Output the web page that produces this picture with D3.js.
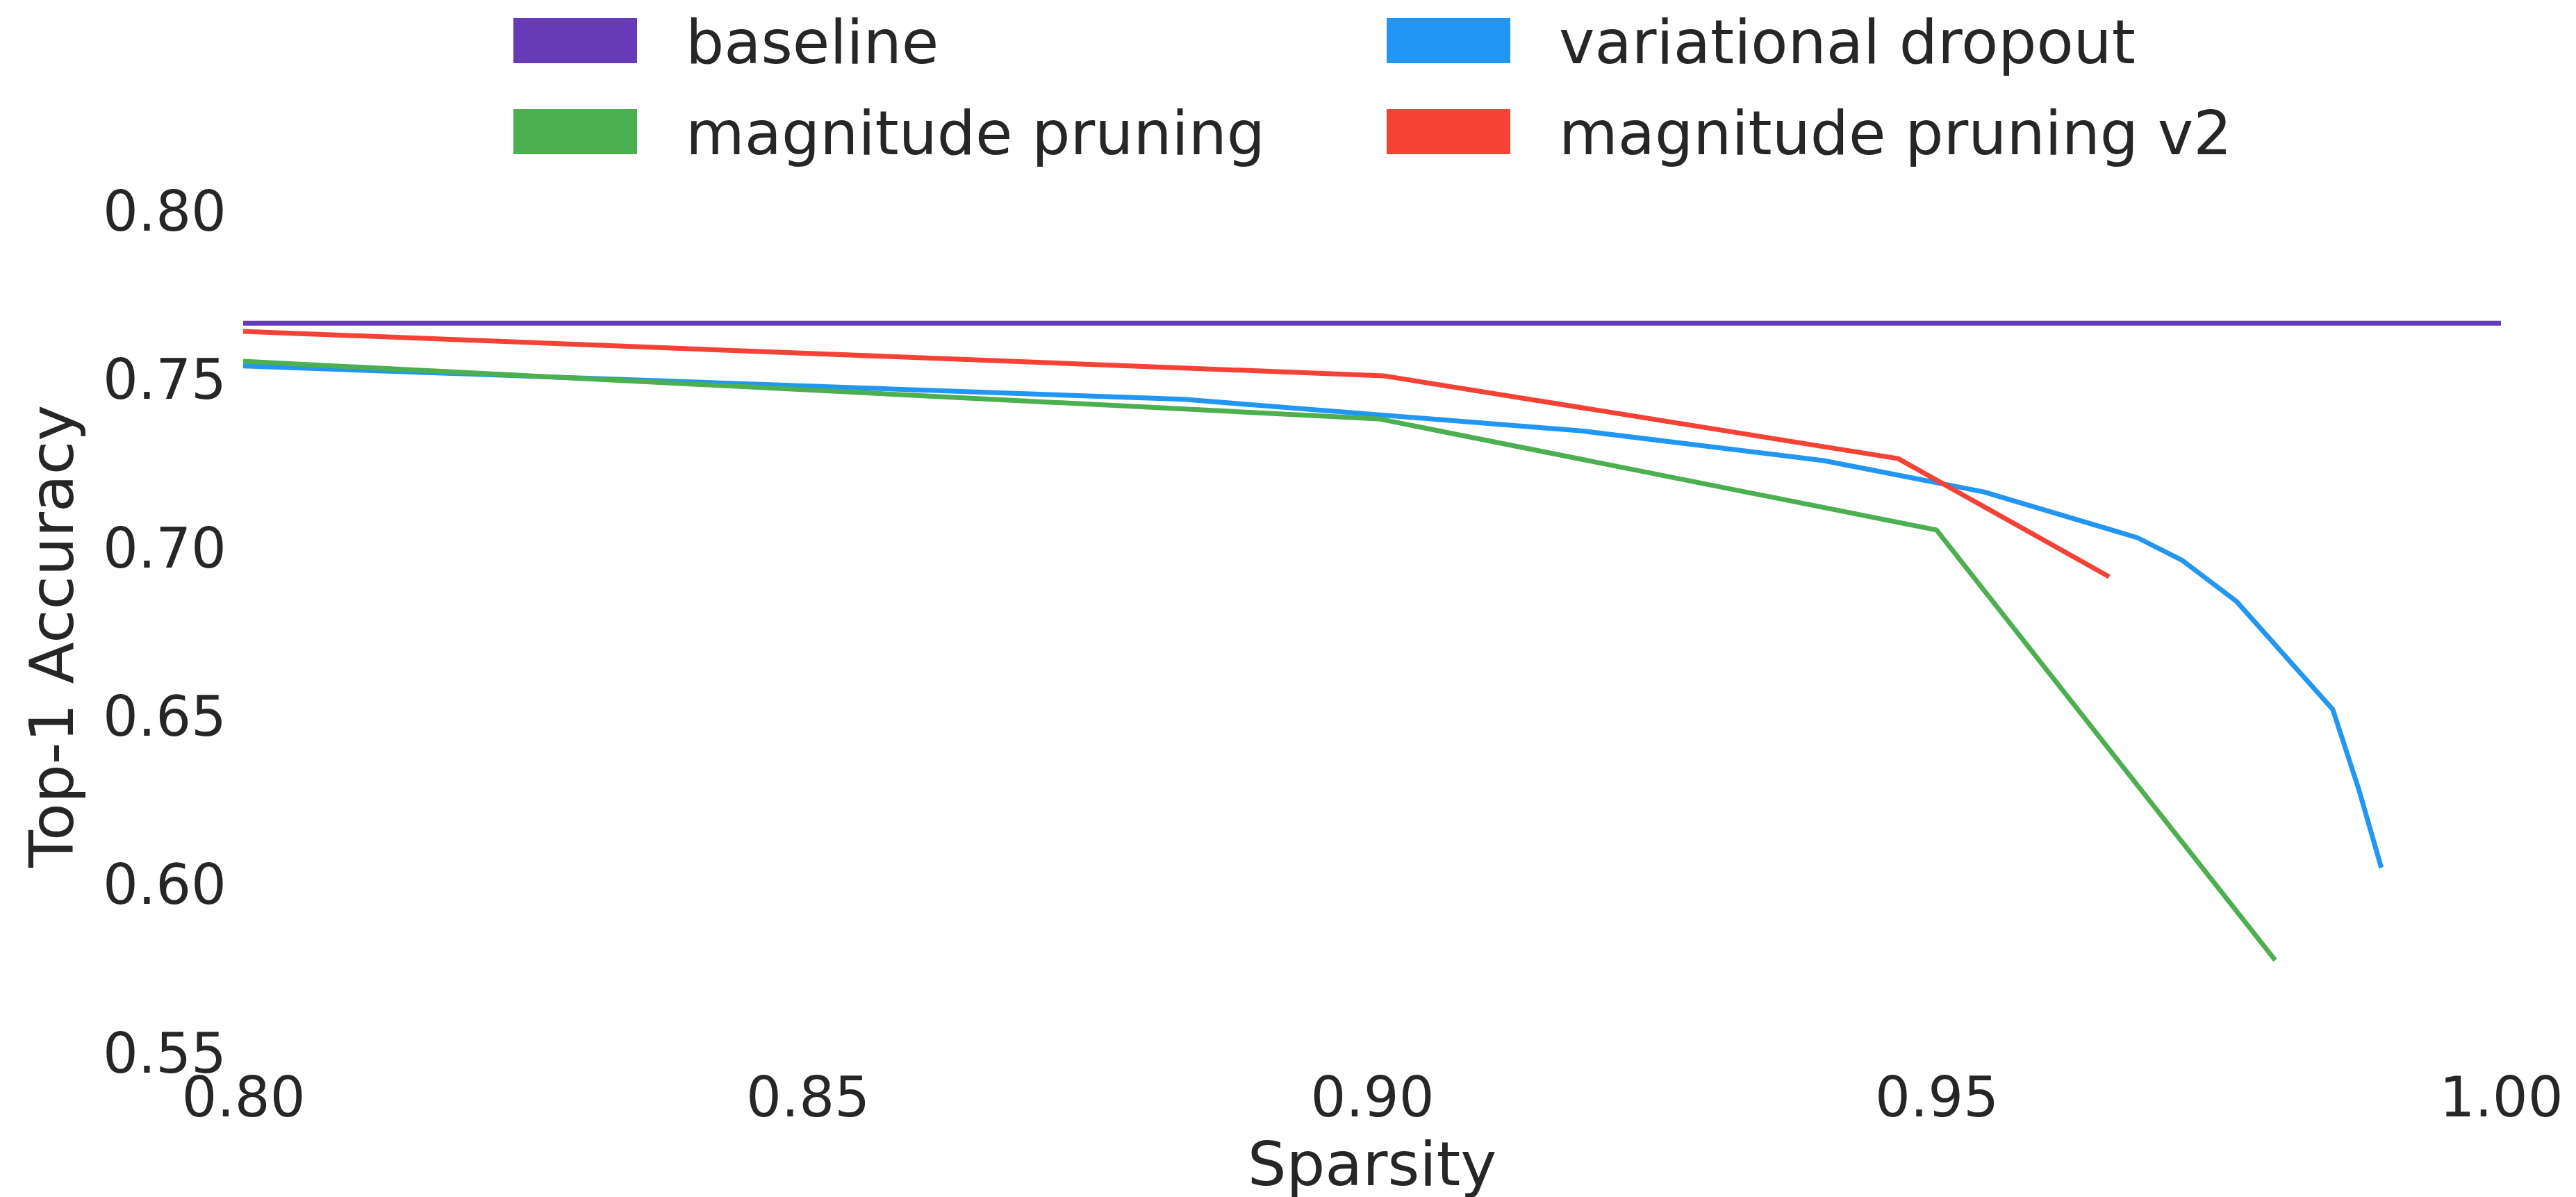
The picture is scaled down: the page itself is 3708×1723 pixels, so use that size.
<!DOCTYPE html>
<html>
<head>
<meta charset="utf-8">
<script src="https://cdn.jsdelivr.net/npm/d3@7"></script>
<style>
  html, body { margin: 0; padding: 0; background: #fff; }
  svg { display: block; }
  text { font-family: "DejaVu Sans", sans-serif; fill: #262626; }
</style>
</head>
<body>
<svg id="chart" width="3708" height="1723"></svg>
<script>
// Top-1 accuracy vs. sparsity for several pruning methods
const seriesNames = ["baseline", "variational dropout", "magnitude pruning", "magnitude pruning v2"];
const seriesColors = ["#673AB7", "#2196F3", "#4CAF50", "#F44336"];

const baselineX = [0.80, 1.00];
const baselineY = [0.7663, 0.7663];

const vdX = [0.80, 0.8833, 0.9184, 0.9400, 0.9542, 0.9678, 0.9718, 0.9766, 0.9851, 0.9874, 0.9894];
const vdY = [0.7536, 0.7437, 0.7344, 0.7255, 0.7162, 0.7026, 0.6958, 0.6836, 0.6516, 0.6279, 0.6046];

const mpX = [0.80, 0.9006, 0.9500, 0.9800];
const mpY = [0.7550, 0.7379, 0.7049, 0.5771];

const mp2X = [0.80, 0.9010, 0.9466, 0.9653];
const mp2Y = [0.7639, 0.7507, 0.7261, 0.6910];

const xTicks = [0.80, 0.85, 0.90, 0.95, 1.00];
const yTicks = [0.55, 0.60, 0.65, 0.70, 0.75, 0.80];
const xDomain = [0.80, 1.00];
const yDomain = [0.55, 0.80];
const xLabel = "Sparsity";
const yLabel = "Top-1 Accuracy";

const seriesX = [baselineX, vdX, mpX, mp2X];
const seriesY = [baselineY, vdY, mpY, mp2Y];

// plot area
const plotLeft = 350, plotRight = 3600, plotTop = 302, plotBottom = 1513.5;

const svg = d3.select("#chart");
const x = d3.scaleLinear().domain(xDomain).range([plotLeft, plotRight]);
const y = d3.scaleLinear().domain(yDomain).range([plotBottom, plotTop]);

// axes without spines or tick marks
const xAxis = svg.append("g")
  .attr("transform", `translate(0,${plotBottom})`)
  .call(d3.axisBottom(x).tickValues(xTicks).tickFormat(d3.format(".2f")).tickSize(0).tickPadding(37));
const yAxis = svg.append("g")
  .attr("transform", `translate(${plotLeft},0)`)
  .call(d3.axisLeft(y).tickValues(yTicks).tickFormat(d3.format(".2f")).tickSize(0).tickPadding(24));

[xAxis, yAxis].forEach(g => {
  g.select(".domain").remove();
  g.attr("font-family", null).attr("font-size", null);
  g.selectAll("text")
    .style("font-family", '"DejaVu Sans", sans-serif')
    .style("font-size", "80px")
    .attr("fill", "#262626");
});
yAxis.selectAll("text").attr("dy", "0.37em");
xAxis.selectAll("text").attr("dy", "0.71em");

// axis titles
svg.append("text")
  .attr("x", (plotLeft + plotRight) / 2)
  .attr("y", 1706)
  .attr("text-anchor", "middle")
  .style("font-size", "88px")
  .text(xLabel);

svg.append("text")
  .attr("transform", `translate(105,${(plotTop + plotBottom) / 2 + 8}) rotate(-90)`)
  .attr("text-anchor", "middle")
  .style("font-size", "88px")
  .text(yLabel);

// lines
const line = d3.line()
  .x(d => x(d[0]))
  .y(d => y(d[1]));

const lineGroup = svg.append("g");
seriesNames.forEach((name, i) => {
  const pts = seriesX[i].map((v, k) => [v, seriesY[i][k]]);
  lineGroup.append("path")
    .datum(pts)
    .attr("d", line)
    .attr("fill", "none")
    .attr("stroke", seriesColors[i])
    .attr("stroke-width", 7)
    .attr("stroke-linejoin", "round")
    .attr("stroke-linecap", "butt");
});

// legend: two columns, two rows
const legend = svg.append("g");
const colX = [739, 1996];
const rowY = [26, 157];
const patchW = 178, patchH = 65;
const legendPos = [[0, 0], [1, 0], [0, 1], [1, 1]];
seriesNames.forEach((name, i) => {
  const [c, r] = legendPos[i];
  const gx = colX[c], gy = rowY[r];
  legend.append("rect")
    .attr("x", gx).attr("y", gy)
    .attr("width", patchW).attr("height", patchH)
    .attr("fill", seriesColors[i]);
  legend.append("text")
    .attr("x", gx + patchW + 70)
    .attr("y", gy + patchH)
    .style("font-size", "87px")
    .text(name);
});
</script>
</body>
</html>
